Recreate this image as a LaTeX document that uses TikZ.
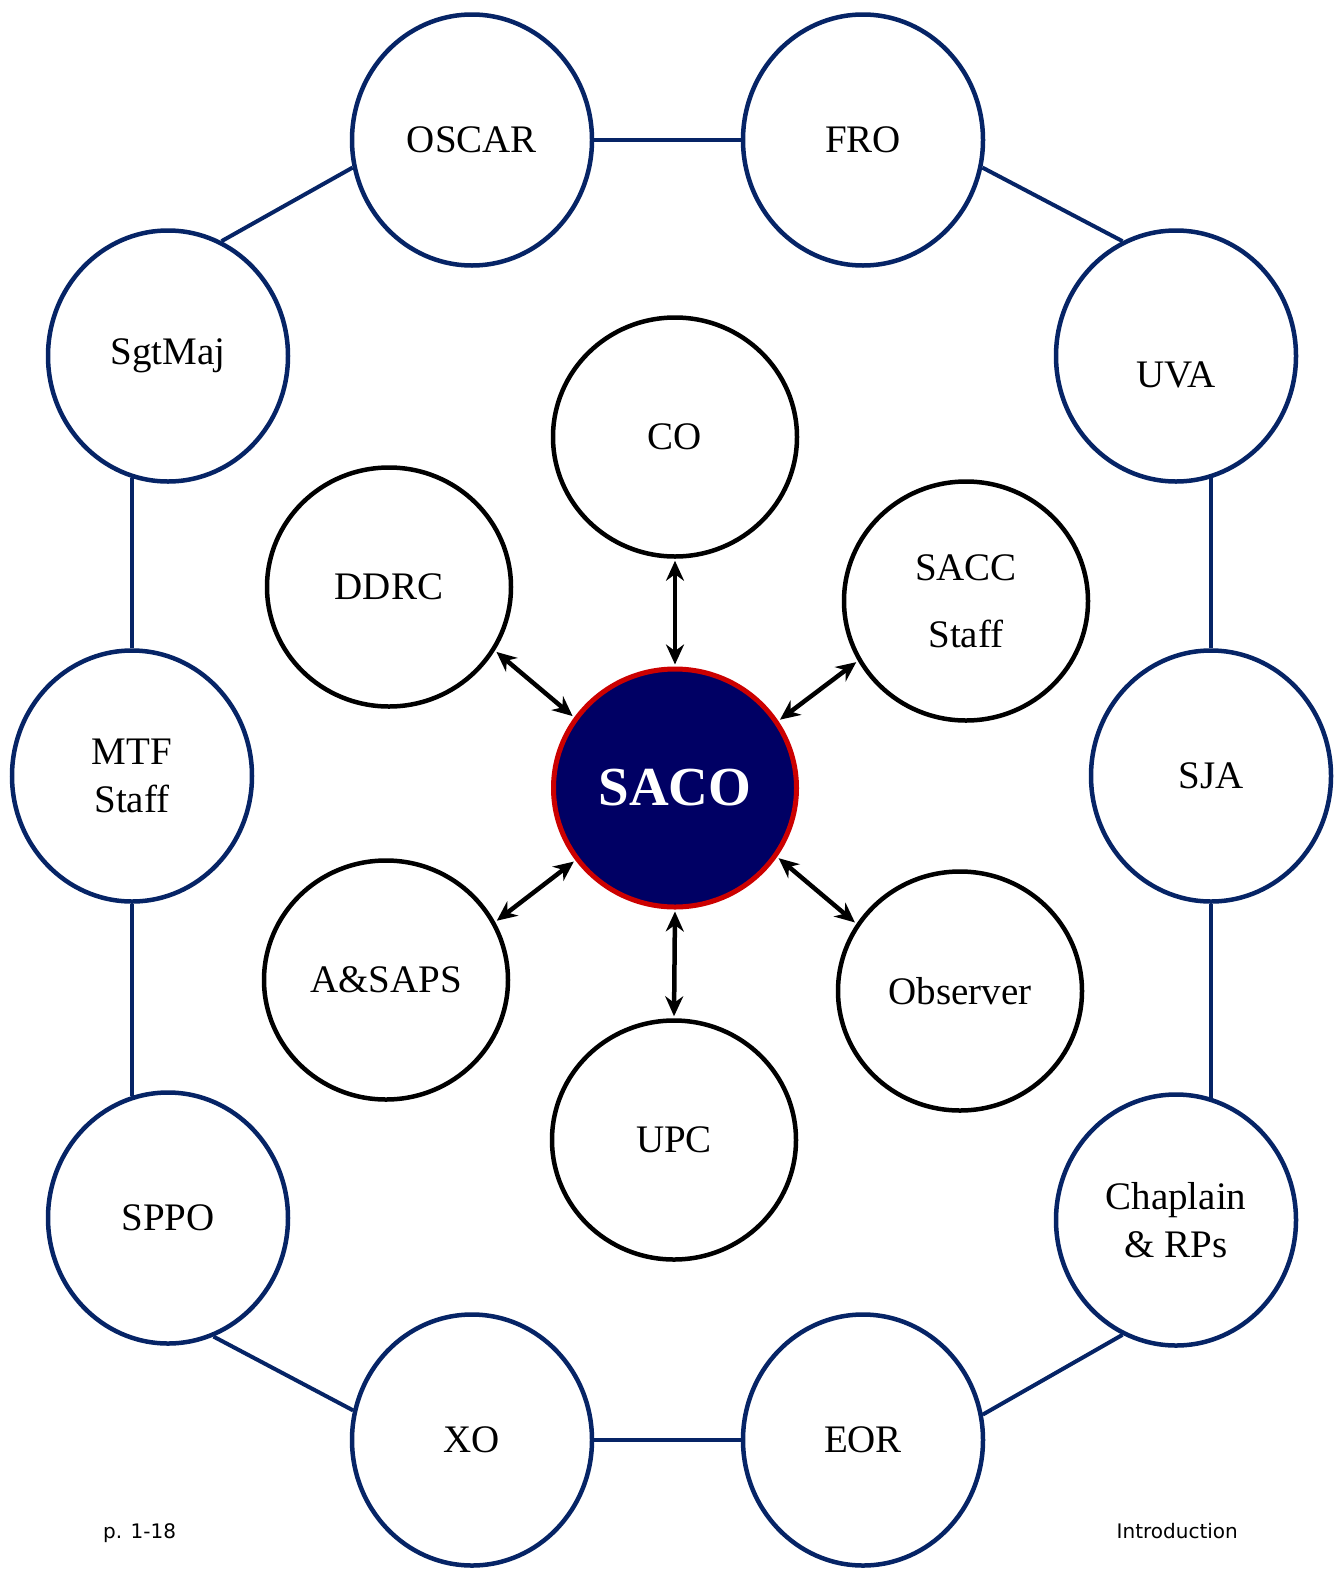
\documentclass[tikz,border=0pt]{standalone}
\usepackage{fontspec}
\setmainfont{Liberation Serif}
\newfontfamily\footfont{DejaVu Sans}
\usetikzlibrary{shapes.geometric,arrows.meta,backgrounds}
\definecolor{ringblue}{RGB}{6,36,102}
\definecolor{sacoblue}{RGB}{0,0,100}
\definecolor{sacored}{RGB}{204,0,0}
\tikzset{
  outerc/.style={ellipse, draw=ringblue, line width=4.5pt, fill=white,
    minimum width=240pt, minimum height=251pt, inner sep=0pt,
    font=\fontsize{39}{48}\selectfont, align=center},
  innerc/.style={ellipse, draw=black, line width=4.5pt, fill=white,
    minimum width=244pt, minimum height=239pt, inner sep=0pt,
    font=\fontsize{39}{48}\selectfont, align=center},
  sacoc/.style={ellipse, draw=sacored, fill=sacoblue, line width=5pt,
    minimum width=243pt, minimum height=238pt, inner sep=0pt, text=white,
    font=\bfseries\fontsize{55}{60}\selectfont},
  ringlink/.style={draw=ringblue, line width=4pt},
  biarrow/.style={draw=black, line width=4.5pt,
    {Stealth[length=20pt,width=18pt]}-{Stealth[length=20pt,width=18pt]},
    shorten >=2pt, shorten <=2pt},
  foot/.style={inner sep=0pt, font=\footfont\fontsize{20}{24}\selectfont}
}
\begin{document}
\begin{tikzpicture}[x=1pt,y=-1pt]
\useasboundingbox (0,0) rectangle (1338,1569);
% outer ring
\node[outerc] (OSCAR) at (472,140) {OSCAR};
\node[outerc] (FRO) at (863,140) {FRO};
\node[outerc] (SgtMaj) at (168,356) {SgtMaj};
\node[outerc, label={[yshift=-19pt, font=\fontsize{39}{48}\selectfont]center:UVA}] (UVA) at (1176,356) {};
\node[outerc] (MTF) at (132,776) {MTF\\Staff};
\node[outerc] (SJA) at (1211,776) {SJA};
\node[outerc] (SPPO) at (168,1218) {SPPO};
\node[outerc] (Chap) at (1176,1220) {Chaplain\\\& RPs};
\node[outerc] (XO) at (472,1440) {XO};
\node[outerc] (EOR) at (863,1440) {EOR};
% inner
\node[innerc] (CO) at (675,437) {CO};
\node[innerc] (DDRC) at (389,587) {DDRC};
\node[innerc] (SACC) at (966,601) {SACC\\[19pt]Staff};
\node[innerc] (ASAPS) at (386,980) {A\&SAPS};
\node[innerc] (UPC) at (674,1140) {UPC};
\node[innerc] (Obs) at (960,991) {Observer};
\node[sacoc] (SACO) at (675,788) {SACO};
% ring links
\begin{scope}[on background layer]
\draw[ringlink] (OSCAR) -- (FRO);
\draw[ringlink] (XO) -- (EOR);
\draw[ringlink] (OSCAR.193) -- (SgtMaj.65);
\draw[ringlink] (FRO.347) -- (UVA.115);
\draw[ringlink] (MTF.north) -- (MTF.north |- SgtMaj.253);
\draw[ringlink] (SJA.north) -- (SJA.north |- UVA.287);
\draw[ringlink] (MTF.south) -- (MTF.south |- SPPO.107);
\draw[ringlink] (SJA.south) -- (SJA.south |- Chap.73);
\draw[ringlink] (SPPO.291) -- (XO.166);
\draw[ringlink] (Chap.245) -- (EOR.12);
\end{scope}
% arrows
\draw[biarrow] (CO.south) -- (SACO.north);
\draw[biarrow] (DDRC.-31) -- (SACO.145);
\draw[biarrow] (SACC.209) -- (SACO.33);
\draw[biarrow] (ASAPS.28) -- (SACO.216);
\draw[biarrow] (UPC.north) -- (SACO.south);
\draw[biarrow] (Obs.147) -- (SACO.326);
% footer
\node[foot, anchor=base west] (pg) at (103,1538) {p. 1-18};
\node[foot, anchor=base east] (intro) at (1238,1538) {Introduction};
\end{tikzpicture}
\end{document}
